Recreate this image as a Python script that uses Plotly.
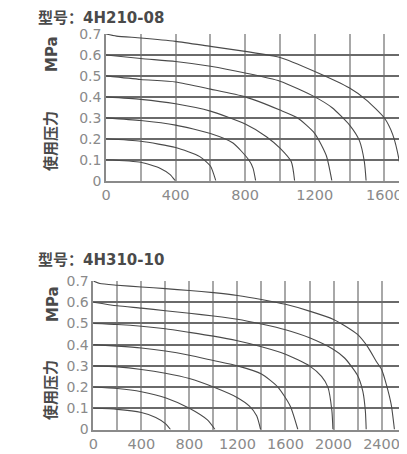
import plotly.graph_objects as go

# ---- data: 4H210-08 (flow vs pressure MPa) ----
top_title = "型号：4H210-08"
top_x_labels = ["0", "400", "800", "1200", "1600"]
top_curves = {
    "0.1": ([0, 200, 310, 367, 398], [0.1, 0.088, 0.06, 0.03, 0]),
    "0.2": ([0, 200, 400, 539, 600, 631], [0.2, 0.188, 0.158, 0.115, 0.07, 0]),
    "0.3": ([0, 200, 400, 600, 730, 820, 845, 860], [0.3, 0.287, 0.265, 0.225, 0.18, 0.1, 0.06, 0]),
    "0.4": ([0, 200, 400, 600, 800, 922, 1000, 1065, 1084], [0.4, 0.388, 0.367, 0.332, 0.27, 0.21, 0.155, 0.09, 0]),
    "0.5": ([0, 200, 400, 600, 800, 1000, 1100, 1200, 1266, 1298], [0.5, 0.483, 0.471, 0.437, 0.4, 0.337, 0.3, 0.225, 0.12, 0]),
    "0.6": ([0, 200, 400, 600, 800, 1000, 1200, 1300, 1400, 1457, 1485, 1495],
            [0.6, 0.583, 0.569, 0.546, 0.514, 0.475, 0.4, 0.348, 0.265, 0.19, 0.09, 0]),
    "0.7": ([0, 60, 200, 400, 600, 800, 1000, 1200, 1400, 1495, 1600, 1648, 1686, 1700],
            [0.7, 0.69, 0.681, 0.665, 0.641, 0.617, 0.588, 0.521, 0.442, 0.386, 0.299, 0.22, 0.092, 0]),
}

# ---- data: 4H310-10 ----
bot_title = "型号：4H310-10"
bot_x_labels = ["0", "400", "800", "1200", "1600", "2000", "2400"]
bot_curves = {
    "0.1": ([0, 200, 400, 520, 600, 643], [0.1, 0.095, 0.08, 0.057, 0.028, 0]),
    "0.2": ([0, 200, 400, 600, 800, 950, 1013], [0.2, 0.193, 0.178, 0.15, 0.1, 0.045, 0]),
    "0.3": ([0, 200, 400, 600, 800, 1000, 1200, 1300, 1360, 1393],
            [0.3, 0.295, 0.283, 0.265, 0.24, 0.2, 0.15, 0.11, 0.065, 0]),
    "0.4": ([0, 200, 400, 600, 800, 1000, 1200, 1400, 1537, 1640, 1703],
            [0.4, 0.393, 0.384, 0.37, 0.35, 0.325, 0.3, 0.262, 0.2, 0.11, 0]),
    "0.5": ([0, 200, 400, 600, 800, 1000, 1200, 1400, 1600, 1800, 1900, 1953, 1986, 1995],
            [0.5, 0.495, 0.487, 0.475, 0.458, 0.44, 0.418, 0.39, 0.355, 0.3, 0.25, 0.2, 0.09, 0]),
    "0.6": ([0, 200, 400, 600, 800, 1000, 1200, 1400, 1600, 1800, 2000, 2092, 2197, 2244, 2265, 2272],
            [0.6, 0.583, 0.572, 0.56, 0.548, 0.535, 0.52, 0.497, 0.47, 0.432, 0.377, 0.337, 0.258, 0.18, 0.087, 0]),
    "0.7": ([0, 55, 200, 400, 600, 800, 1000, 1200, 1400, 1600, 1800, 2000, 2100, 2200, 2290, 2355, 2400, 2440, 2480, 2507],
            [0.7, 0.688, 0.68, 0.672, 0.664, 0.655, 0.645, 0.632, 0.613, 0.59, 0.558, 0.519, 0.487, 0.448, 0.385, 0.322, 0.283, 0.212, 0.118, 0]),
}

y_vals = [0, 0.1, 0.2, 0.3, 0.4, 0.5, 0.6, 0.7]
y_labels = ["0", "0.1", "0.2", "0.3", "0.4", "0.5", "0.6", "0.7"]
y_title_cn = "使用压力"
y_title_unit = "MPa"

# page body has an 8px default margin; size the figure to the remaining area
OFF = 8
W, H = 407 - OFF, 454 - OFF


def px(x):
    return (x - OFF) / W


def py(y):
    return 1 - (y - OFF) / H


CURVE = "#4a4a4a"
TICKC = "#8a8a8a"
FONT = "DejaVu Sans, Noto Sans CJK SC, sans-serif"

fig = go.Figure()
for name, (xs, ys) in top_curves.items():
    fig.add_trace(go.Scatter(x=xs, y=ys, mode="lines", xaxis="x", yaxis="y",
                             line=dict(color=CURVE, width=1.1, shape="spline", smoothing=0.6),
                             showlegend=False, hoverinfo="skip"))
for name, (xs, ys) in bot_curves.items():
    fig.add_trace(go.Scatter(x=xs, y=ys, mode="lines", xaxis="x2", yaxis="y2",
                             line=dict(color=CURVE, width=1.1, shape="spline", smoothing=0.6),
                             showlegend=False, hoverinfo="skip"))


def xgrid(labels, maxv):
    vals = list(range(0, maxv + 1, 200))
    lab_set = set(labels)
    text = [str(v) if str(v) in lab_set else "" for v in vals]
    return vals, text


tx_vals, tx_text = xgrid(top_x_labels, 1700)
bx_vals, bx_text = xgrid(bot_x_labels, 2500)

common_x = dict(showgrid=True, gridcolor="#a8a8a8", gridwidth=1.5, zeroline=False,
                showline=True, linecolor="#8a8a8a", linewidth=1.5, ticks="", automargin=False,
                tickfont=dict(family=FONT, size=14.5, color=TICKC), fixedrange=True)
common_y = dict(showgrid=True, gridcolor="#6a6a6a", gridwidth=1.5, zeroline=False,
                showline=True, linecolor="#8a8a8a", linewidth=1.5, ticks="", automargin=False,
                tickvals=y_vals, ticktext=y_labels,
                tickfont=dict(family=FONT, size=14, color=TICKC), fixedrange=True)

fig.update_layout(
    template="none",
    width=W, height=H, autosize=False,
    margin=dict(l=0, r=0, t=0, b=0, pad=0),
    paper_bgcolor="white", plot_bgcolor="white",
    xaxis=dict(common_x, domain=[px(106), 1.0], range=[0, 1730],
               tickvals=tx_vals, ticktext=tx_text, anchor="y"),
    yaxis=dict(common_y, domain=[py(180.7), py(34)], range=[0, 0.7], anchor="x"),
    xaxis2=dict(common_x, domain=[px(93.3), px(405)], range=[0, 2595],
                tickvals=bx_vals, ticktext=bx_text, anchor="y2"),
    yaxis2=dict(common_y, domain=[py(429.5), py(281)], range=[0, 0.7], anchor="x2"),
)

ann_font = dict(family=FONT, size=15, color="#4a4a4a", weight="bold")
anns = [
    dict(text=top_title, x=px(37), y=py(8), xanchor="left", yanchor="top", borderpad=0),
    dict(text=bot_title, x=px(36), y=py(260), xanchor="left", yanchor="middle"),
    dict(text=y_title_unit, x=px(52), y=py(54), textangle=-90, xanchor="center", yanchor="middle"),
    dict(text=y_title_cn, x=px(51), y=py(141), textangle=-90, xanchor="center", yanchor="middle"),
    dict(text=y_title_unit, x=px(53), y=py(304), textangle=-90, xanchor="center", yanchor="middle"),
    dict(text=y_title_cn, x=px(51), y=py(390), textangle=-90, xanchor="center", yanchor="middle"),
]
for a in anns:
    fig.add_annotation(xref="paper", yref="paper", showarrow=False, font=ann_font, **a)

fig.write_html("out.html")
